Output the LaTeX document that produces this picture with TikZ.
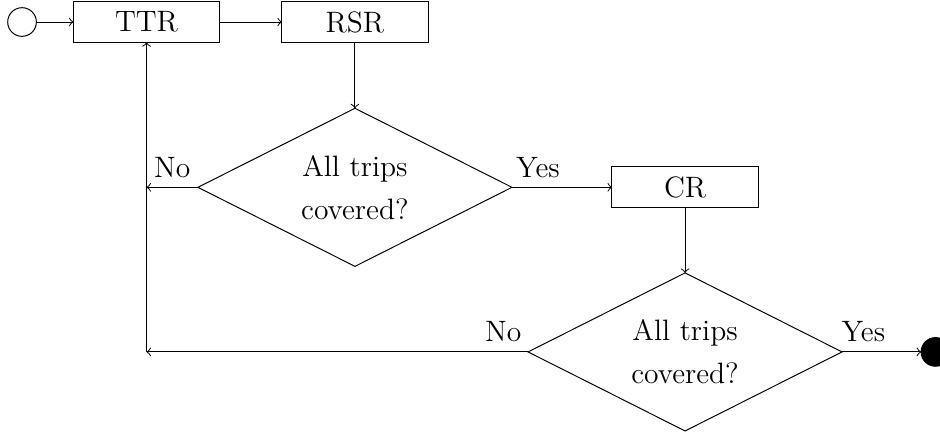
\documentclass[tikz,border=0pt,12pt]{standalone}
\usetikzlibrary{shapes.geometric,positioning}

\begin{document}
\begin{tikzpicture}[
   every node/.style={outer sep=0pt},
   proc/.style={draw, rectangle, minimum width=2.09cm, minimum height=0.56cm},
   test/.style={draw, diamond, aspect=2, align=center, inner sep=0pt,
                minimum width=4.49cm, minimum height=2.26cm},
   term/.style={draw, circle, inner sep=0pt, minimum size=0.41cm},
   lbl/.style={above}]

\useasboundingbox (0,0) rectangle (13.44,-6.22);

\node[term] (start) at (0.315,-0.315) {};
\node[proc, right=0.53cm of start] (ttr) {TTR};
\node[proc, right=0.89cm of ttr] (rsr) {RSR};
\node[test, below=0.94cm of rsr] (cov1) {All trips\\[3pt]covered?};
\node[proc, right=1.43cm of cov1] (cr) {CR};
\node[test, below=0.93cm of cr] (cov2) {All trips\\[3pt]covered?};
\node[term, fill=black, right=1.13cm of cov2] (stop) {};

\coordinate (back1) at (cov1.west -| ttr.south);
\coordinate (back2) at (cov2.west -| ttr.south);

\draw[->] (start) -- (ttr);
\draw[->] (ttr) -- (rsr);
\draw[->] (rsr) -- (cov1);
\draw[->] (cov1.east) -- node[lbl, pos=0.26] {Yes} (cr);
\draw[->] (cov1.west) -- node[lbl] {No} (back1);
\draw[->] (cr) -- (cov2);
\draw[->] (cov2.east) -- node[lbl, pos=0.27] {Yes} (stop);
\draw[->] (cov2.west) -- node[lbl, pos=0.065] {No} (back2);
\draw[->] (back2) -- (ttr.south);

\end{tikzpicture}
\end{document}
